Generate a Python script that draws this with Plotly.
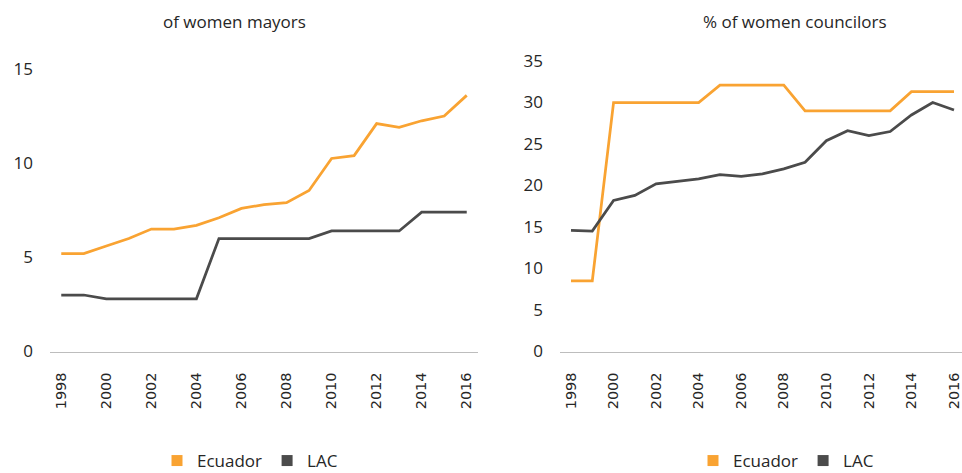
import plotly.graph_objects as go

years = list(range(1998, 2017))
tick_years = list(range(1998, 2017, 2))
tick_labels = [str(y) for y in tick_years]

mayors_ecuador = [5.2, 5.2, 5.6, 6.0, 6.5, 6.5, 6.7, 7.1, 7.6, 7.8, 7.9, 8.55,
                  10.25, 10.4, 12.1, 11.9, 12.25, 12.5, 13.6]
mayors_lac = [3.0, 3.0, 2.8, 2.8, 2.8, 2.8, 2.8, 6.0, 6.0, 6.0, 6.0, 6.0,
              6.4, 6.4, 6.4, 6.4, 7.4, 7.4, 7.4]
councilors_ecuador = [8.5, 8.5, 30.0, 30.0, 30.0, 30.0, 30.0, 32.1, 32.1, 32.1, 32.1,
                      29.0, 29.0, 29.0, 29.0, 29.0, 31.3, 31.3, 31.3]
councilors_lac = [14.6, 14.5, 18.2, 18.8, 20.2, 20.5, 20.8, 21.3, 21.1, 21.4, 22.0,
                  22.8, 25.4, 26.6, 26.0, 26.5, 28.5, 30.0, 29.1]

title_left = "of women mayors"
title_right = "% of women councilors"
series_names = ["Ecuador", "LAC"]

ORANGE = "#F9A332"
GRAY = "#4B4B4B"
TEXT = "#262626"
AXIS = "#BDBDBD"
FONT = "Open Sans"

W, H = 962, 473

fig = go.Figure()

for vals, name, color in [(mayors_ecuador, series_names[0], ORANGE), (mayors_lac, series_names[1], GRAY)]:
    fig.add_trace(go.Scatter(x=years, y=vals, mode="lines", name=name,
                             line=dict(color=color, width=2.75),
                             xaxis="x", yaxis="y", showlegend=False))
for vals, name, color in [(councilors_ecuador, series_names[0], ORANGE), (councilors_lac, series_names[1], GRAY)]:
    fig.add_trace(go.Scatter(x=years, y=vals, mode="lines", name=name,
                             line=dict(color=color, width=2.75),
                             xaxis="x2", yaxis="y2", showlegend=False))

# legend entries (square swatches)
for lg in ["legend", "legend2"]:
    for name, color in zip(series_names, [ORANGE, GRAY]):
        fig.add_trace(go.Scatter(x=[None], y=[None], mode="markers", name=name,
                                 marker=dict(symbol="square", size=11, color=color),
                                 xaxis="x" if lg == "legend" else "x2",
                                 yaxis="y" if lg == "legend" else "y2",
                                 legend=lg, showlegend=True))

def px_x(p):
    return p / W

def px_y(p):
    return (H - p) / H

xaxis_common = dict(
    tickmode="array", tickvals=tick_years, ticktext=tick_labels,
    tickangle=-90, showgrid=False, zeroline=False,
    showline=True, linecolor=AXIS, linewidth=1.3,
    ticks="", ticklabelstandoff=14, automargin=False,
    ticklabeloverflow="allow",
    tickfont=dict(family="DejaVu Sans", size=14.5, color=TEXT),
    fixedrange=True,
)
yaxis_common = dict(
    showgrid=False, zeroline=False, showline=False, ticks="",
    ticklabelstandoff=16, automargin=False,
    tickfont=dict(family=FONT, size=17, color=TEXT),
    fixedrange=True,
)

legend_common = dict(orientation="h", xanchor="center", yanchor="middle",
                     xref="container", yref="container",
                     font=dict(family=FONT, size=17, color=TEXT), bgcolor="rgba(0,0,0,0)",
                     itemclick=False, itemdoubleclick=False)

fig.update_layout(
    width=W, height=H,
    margin=dict(l=0, r=0, t=0, b=0, autoexpand=False),
    paper_bgcolor="white", plot_bgcolor="white",
    xaxis=dict(domain=[px_x(50), px_x(478)], range=[1997.5, 2016.5], anchor="y", **xaxis_common),
    yaxis=dict(domain=[px_y(351.5), px_y(69)], range=[0, 15], tickvals=[0, 5, 10, 15], anchor="x", **yaxis_common),
    xaxis2=dict(domain=[px_x(560), 1.0], range=[1997.483, 2016.376], anchor="y2", **xaxis_common),
    yaxis2=dict(domain=[px_y(351.5), px_y(61)], range=[0, 35], tickvals=[0, 5, 10, 15, 20, 25, 30, 35], anchor="x2", **yaxis_common),
    legend=dict(x=px_x(250), y=px_y(461), **legend_common),
    legend2=dict(x=px_x(786), y=px_y(461), **legend_common),
    annotations=[
        dict(text=title_left, x=px_x(234.5), y=px_y(22), xref="paper", yref="paper",
             xanchor="center", yanchor="middle", showarrow=False,
             font=dict(family=FONT, size=17, color=TEXT)),
        dict(text=title_right, x=px_x(795), y=px_y(22), xref="paper", yref="paper",
             xanchor="center", yanchor="middle", showarrow=False,
             font=dict(family=FONT, size=17, color=TEXT)),
    ],
    showlegend=True,
)

fig.write_html("out.html", config={"displayModeBar": False},
               post_script="document.body.style.margin='0';")
